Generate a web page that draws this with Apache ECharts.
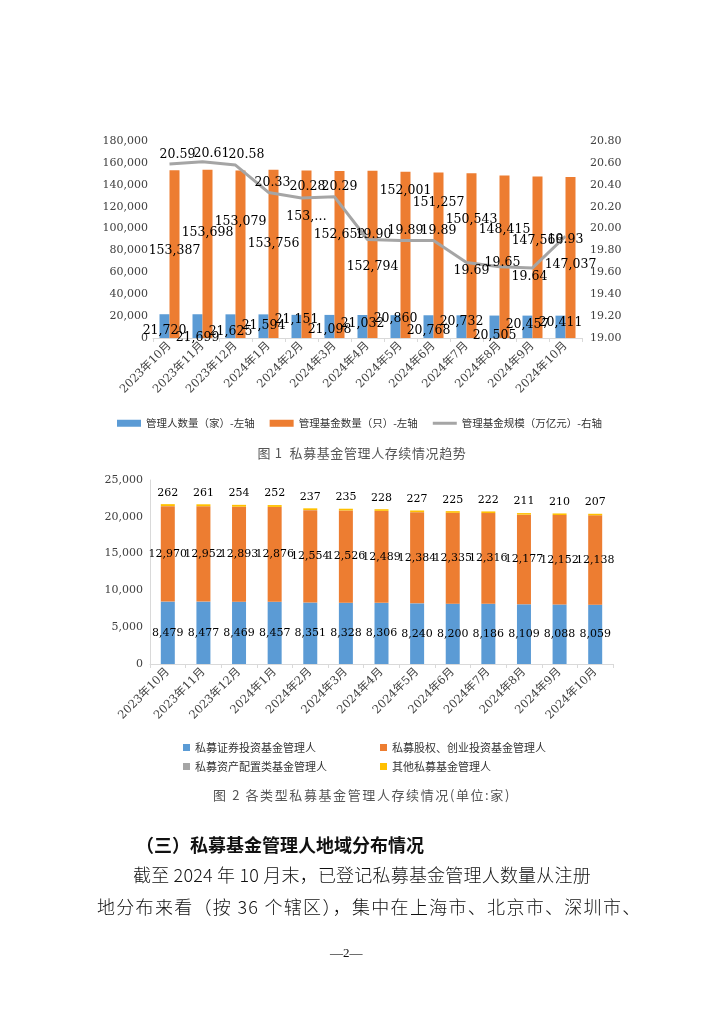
<!DOCTYPE html>
<html>
<head>
<meta charset="utf-8">
<script src="https://cdn.jsdelivr.net/npm/echarts@6/dist/echarts.min.js"></script>
<style>
html,body{margin:0;padding:0;background:#fff;width:724px;height:1024px;overflow:hidden;}
#c{position:absolute;left:0;top:0;width:724px;height:1024px;}
.t{position:absolute;white-space:nowrap;font-family:"Noto Sans CJK SC",sans-serif;color:#111;}
</style>
</head>
<body>
<div id="c"></div>
<div class="t" style="left:0;width:724px;text-align:center;top:443px;font-size:13px;letter-spacing:0.6px;color:#555;">图 1&nbsp;&nbsp;私募基金管理人存续情况趋势</div>
<div class="t" style="left:0;width:724px;text-align:center;top:785px;font-size:13px;letter-spacing:1.6px;color:#555;">图 2 各类型私募基金管理人存续情况(单位:家)</div>
<div class="t" style="left:136px;top:831px;font-size:18px;font-weight:bold;">（三）私募基金管理人地域分布情况</div>
<div class="t" style="left:133px;top:861px;font-size:18px;font-weight:300;letter-spacing:0.2px;">截至 2024 年 10 月末，已登记私募基金管理人数量从注册</div>
<div class="t" style="left:97px;top:893px;font-size:18px;font-weight:300;letter-spacing:1.3px;">地分布来看（按 36 个辖区），集中在上海市、北京市、深圳市、</div>
<div class="t" style="left:330px;top:945px;font-size:13px;font-family:'Liberation Serif',serif;">—2—</div>
<script>
// ---- data ----
var months = ['2023年10月','2023年11月','2023年12月','2024年1月','2024年2月','2024年3月','2024年4月','2024年5月','2024年6月','2024年7月','2024年8月','2024年9月','2024年10月'];
var managerCount = [21720,21699,21625,21594,21151,21098,21032,20860,20768,20732,20505,20457,20411];
var fundCount = [153387,153698,153079,153756,153000,152659,152794,152001,151257,150543,148415,147566,147037];
var fundScale = [20.59,20.61,20.58,20.33,20.28,20.29,19.90,19.89,19.89,19.69,19.65,19.64,19.93];
var securities = [8479,8477,8469,8457,8351,8328,8306,8240,8200,8186,8109,8088,8059];
var equityVC = [12970,12952,12893,12876,12554,12526,12489,12384,12335,12316,12177,12152,12138];
var assetAlloc = [9,9,9,9,9,9,9,9,8,8,8,7,7];
var others = [262,261,254,252,237,235,228,227,225,222,211,210,207];
var leftTicks1 = {min:0,max:180000,interval:20000};
var rightTicks1 = {min:19.0,max:20.8,interval:0.2};
var leftTicks2 = {min:0,max:25000,interval:5000};
// label text shown truncated in the source chart
var fundLabelTruncated = {4:'153,…'};

// ---- styling: label nudges (pixels) reproducing the source's staggered label placement ----
var blueNudgeY = [-1,6,0,-6,-12,-2,-8,-13,-1,-10,4,-7,-9];
var orangeNudgeY = [-81,-99,-110,-88,-115,-97,-65,-141,-129,-112,-102,-91,-67];
var lineNudge = [[8,-9],[9,-8],[11,-10],[4,-10],[6,-11],[5,-10],[6,-5],[5,-10],[5,-10],[5,8],[3,-4],[-3,9],[0,4]];

var NUM = "'DejaVu Serif','Liberation Serif',serif";
var CJK = "'DejaVu Serif','Noto Sans CJK SC',serif";
var fmt = function(v){return Number(v).toLocaleString('en-US');};
var blue='#5B9BD5', orange='#ED7D31', grey='#A5A5A5', yellow='#FFC000';
var axisGrey='#D9D9D9';

var blueData = managerCount.map(function(v,i){return {value:v,label:{offset:[0,blueNudgeY[i]]}};});
var orangeData = fundCount.map(function(v,i){return {value:v,label:{offset:[0,orangeNudgeY[i]]}};});
var lineData = fundScale.map(function(v,i){return {value:v,label:{offset:lineNudge[i]}};});

var legendText = {fontFamily:"'Noto Sans CJK SC'",fontSize:11,color:'#333'};
var chart = echarts.init(document.getElementById('c'), null, {renderer:'canvas'});
chart.setOption({
  animation:false,
  backgroundColor:'#fff',
  textStyle:{fontFamily:NUM},
  grid:[
    {left:153,right:142,top:141,bottom:686,containLabel:false},
    {left:150,right:111,top:480,bottom:360,containLabel:false}
  ],
  legend:[
    {left:112,top:413,itemWidth:24,itemHeight:7,itemGap:15,
     textStyle:{fontFamily:"'Noto Sans CJK SC'",fontSize:10.5,color:'#333'},
     data:[{name:'管理人数量（家）-左轴',icon:'rect'},{name:'管理基金数量（只）-左轴',icon:'rect'},
           {name:'管理基金规模（万亿元）-右轴',icon:'path://M0,0 L24,0 L24,3 L0,3 Z'}]},
    {left:178,top:737,itemWidth:7,itemHeight:7,textStyle:legendText,data:[{name:'私募证券投资基金管理人',icon:'rect'}]},
    {left:375,top:737,itemWidth:7,itemHeight:7,textStyle:legendText,data:[{name:'私募股权、创业投资基金管理人',icon:'rect'}]},
    {left:178,top:756,itemWidth:7,itemHeight:7,textStyle:legendText,data:[{name:'私募资产配置类基金管理人',icon:'rect'}]},
    {left:375,top:756,itemWidth:7,itemHeight:7,textStyle:legendText,data:[{name:'其他私募基金管理人',icon:'rect'}]}
  ],
  xAxis:[
    {type:'category',gridIndex:0,data:months,boundaryGap:true,
     axisLine:{lineStyle:{color:axisGrey}},axisTick:{show:true,length:4,lineStyle:{color:axisGrey}},
     axisLabel:{rotate:45,fontSize:11.5,color:'#404040',fontFamily:CJK,margin:6,interval:0}},
    {type:'category',gridIndex:1,data:months,boundaryGap:true,
     axisLine:{lineStyle:{color:axisGrey}},axisTick:{show:true,length:4,lineStyle:{color:axisGrey}},
     axisLabel:{rotate:45,fontSize:11.5,color:'#404040',fontFamily:CJK,margin:6,interval:0}}
  ],
  yAxis:[
    {type:'value',gridIndex:0,min:leftTicks1.min,max:leftTicks1.max,interval:leftTicks1.interval,
     axisLine:{show:false},axisTick:{show:false},splitLine:{show:false},
     axisLabel:{formatter:fmt,fontSize:11,color:'#404040',margin:5}},
    {type:'value',gridIndex:0,position:'right',min:rightTicks1.min,max:rightTicks1.max,interval:rightTicks1.interval,
     axisLine:{show:false},axisTick:{show:false},splitLine:{show:false},
     axisLabel:{formatter:function(v){return v.toFixed(2);},fontSize:11,color:'#404040',margin:8}},
    {type:'value',gridIndex:1,min:leftTicks2.min,max:leftTicks2.max,interval:leftTicks2.interval,
     axisLine:{show:true,lineStyle:{color:axisGrey}},axisTick:{show:false},splitLine:{show:false},
     axisLabel:{formatter:fmt,fontSize:11,color:'#404040',margin:7}}
  ],
  series:[
    {name:'管理人数量（家）-左轴',type:'bar',xAxisIndex:0,yAxisIndex:0,data:blueData,barWidth:10,barGap:'0%',
     itemStyle:{color:blue},
     label:{show:true,position:'insideBottom',distance:0,formatter:function(p){return fmt(p.value);},fontSize:12.5,color:'#000',fontFamily:NUM}},
    {name:'管理基金数量（只）-左轴',type:'bar',xAxisIndex:0,yAxisIndex:0,data:orangeData,barWidth:10,barGap:'0%',
     itemStyle:{color:orange},
     label:{show:true,position:'insideBottom',distance:0,formatter:function(p){return fundLabelTruncated[p.dataIndex]||fmt(p.value);},fontSize:12.5,color:'#000',fontFamily:NUM}},
    {name:'管理基金规模（万亿元）-右轴',type:'line',xAxisIndex:0,yAxisIndex:1,data:lineData,symbol:'circle',symbolSize:0.01,showSymbol:true,
     lineStyle:{color:grey,width:3},itemStyle:{color:grey},
     label:{show:true,position:'inside',formatter:function(p){return p.value.toFixed(2);},fontSize:12.5,color:'#000',fontFamily:NUM}},
    {name:'私募证券投资基金管理人',type:'bar',xAxisIndex:1,yAxisIndex:2,stack:'t',data:securities,barWidth:14,
     itemStyle:{color:blue},
     label:{show:true,position:'inside',formatter:function(p){return fmt(p.value);},fontSize:11,color:'#000',fontFamily:NUM}},
    {name:'私募股权、创业投资基金管理人',type:'bar',xAxisIndex:1,yAxisIndex:2,stack:'t',data:equityVC,barWidth:14,
     itemStyle:{color:orange},
     label:{show:true,position:'inside',formatter:function(p){return fmt(p.value);},fontSize:11,color:'#000',fontFamily:NUM}},
    {name:'私募资产配置类基金管理人',type:'bar',xAxisIndex:1,yAxisIndex:2,stack:'t',data:assetAlloc,barWidth:14,
     itemStyle:{color:grey}},
    {name:'其他私募基金管理人',type:'bar',xAxisIndex:1,yAxisIndex:2,stack:'t',data:others,barWidth:14,
     itemStyle:{color:yellow},
     label:{show:true,position:'top',distance:6,formatter:function(p){return fmt(p.value);},fontSize:11,color:'#000',fontFamily:NUM}}
  ]
});
</script>
</body>
</html>
